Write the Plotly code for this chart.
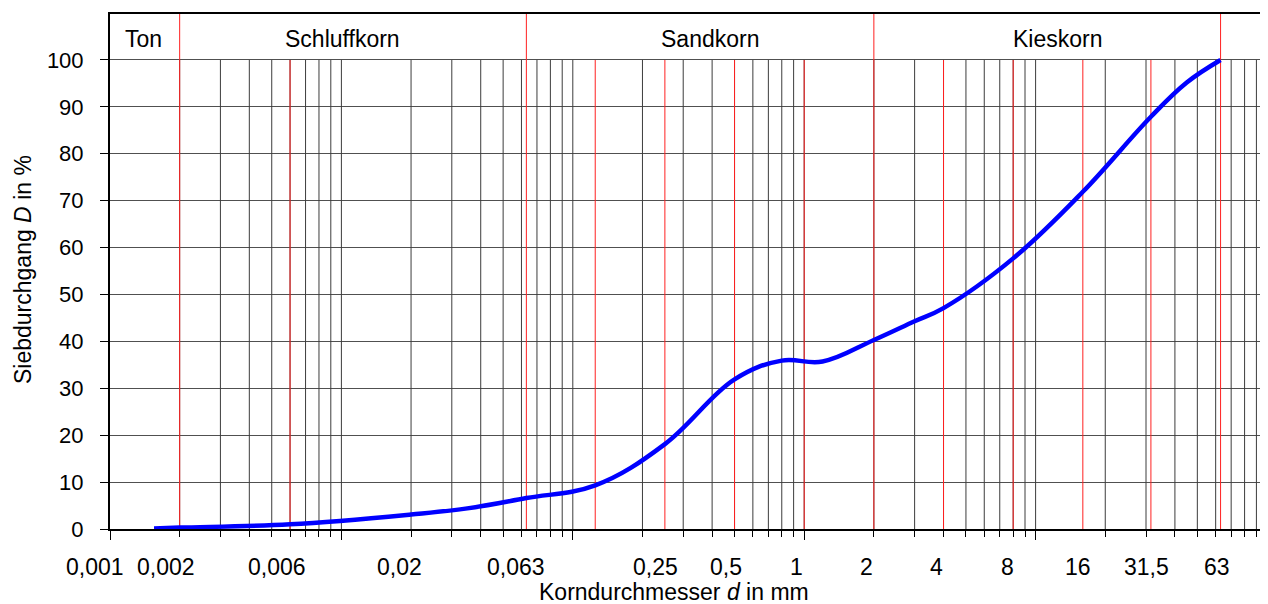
import numpy as np
import plotly.graph_objects as go

# ---- data ----
grain_size_mm = [0.00155, 0.002, 0.006, 0.02, 0.035, 0.063, 0.125, 0.25, 0.5, 0.8, 1.2,
                 2, 3, 4, 8, 16, 31.5, 45, 63]
passing_pct = [0.1, 0.3, 1.0, 3.1, 4.4, 6.6, 9.3, 18.1, 31.9, 35.9, 35.7,
               40.3, 44.3, 47.1, 57.7, 71.9, 87.9, 95.2, 100]

x_tick_values = [0.001, 0.002, 0.006, 0.02, 0.063, 0.25, 0.5, 1, 2, 4, 8, 16, 31.5, 63]
x_tick_labels = ["0,001", "0,002", "0,006", "0,02", "0,063", "0,25", "0,5", "1", "2", "4", "8", "16", "31,5", "63"]
y_tick_values = list(range(0, 101, 10))

fraction_names = ["Ton", "Schluffkorn", "Sandkorn", "Kieskorn"]
fraction_bounds = [0.002, 0.063, 2, 63]          # red lines across full height
sieve_lines = [0.006, 0.125, 0.25, 0.5, 1, 4, 8, 16, 31.5]  # red lines in chart body

Y_TOP = 109.8
FONT = "Arial, Liberation Sans, sans-serif"

# log grid values n*10^k
grid_vals = [n * 10.0 ** k for k in range(-3, 2) for n in range(1, 10)][1:] + [100]


def vlines(vals, y0, y1):
    xs, ys = [], []
    for v in vals:
        xs += [v, v, None]
        ys += [y0, y1, None]
    return xs, ys


fig = go.Figure()

gx, gy = vlines(grid_vals, 0, 100)
fig.add_trace(go.Scatter(x=gx, y=gy, mode="lines", line=dict(color="#3c3c3c", width=1),
                         hoverinfo="skip", showlegend=False))
rx, ry = vlines(sieve_lines, 0, 100)
fig.add_trace(go.Scatter(x=rx, y=ry, mode="lines", line=dict(color="#ff2020", width=1),
                         hoverinfo="skip", showlegend=False))
bx, by = vlines(fraction_bounds, 0, Y_TOP)
fig.add_trace(go.Scatter(x=bx, y=by, mode="lines", line=dict(color="#ff2020", width=1),
                         hoverinfo="skip", showlegend=False))

fig.add_trace(go.Scatter(x=grain_size_mm, y=passing_pct, mode="lines",
                         line=dict(color="#0000ff", width=4.5, shape="spline", smoothing=1.1),
                         showlegend=False))

annotations = []
# band labels (Ton / Schluffkorn / Sandkorn / Kieskorn)
band_label_pos = [-2.855, -1.996, -0.407, 1.095]  # log10 positions
for name, lx in zip(fraction_names, band_label_pos):
    annotations.append(dict(x=lx, y=104.5, xref="x", yref="y", text=name, showarrow=False,
                            font=dict(family=FONT, size=23, color="black"),
                            xanchor="center", yanchor="middle"))
# x tick labels
for v, t in zip(x_tick_values, x_tick_labels):
    lv = np.log10(v)
    annotations.append(dict(x=lv, y=0, xref="x", yref="paper", text=t, showarrow=False,
                            font=dict(family=FONT, size=23, color="black"),
                            xanchor="center", yanchor="middle",
                            xshift=-14.6 + 2.23 * (lv + 3), yshift=-37.5))
# axis titles
annotations.append(dict(x=(674 - 110) / 1157, y=0, xref="paper", yref="paper",
                        text="Korndurchmesser <i>d</i> in mm", showarrow=False,
                        font=dict(family=FONT, size=23, color="black"),
                        xanchor="center", yanchor="middle", yshift=-63))
annotations.append(dict(x=0, y=(529 - 270) / 515, xref="paper", yref="paper",
                        text="Siebdurchgang <i>D</i> in %", showarrow=False, textangle=-90,
                        font=dict(family=FONT, size=23, color="black"),
                        xanchor="center", yanchor="middle", xshift=-87))

# the page body has an 8 px default margin, so the figure is 8 px smaller / offset
fig.update_layout(
    width=1260, height=596,
    margin=dict(l=102, r=1, t=6, b=75, autoexpand=False),
    paper_bgcolor="white", plot_bgcolor="white",
    font=dict(family=FONT, size=23, color="black"),
    annotations=annotations,
    xaxis=dict(type="log", range=[-3, 2], showgrid=False, zeroline=False, automargin=False,
               showline=True, linecolor="black", linewidth=2, mirror=True,
               tickmode="array", tickvals=[0.001, 0.01, 0.1, 1, 10, 100],
               ticks="outside", ticklen=9, tickcolor="black", tickwidth=1,
               showticklabels=False,
               minor=dict(tickmode="array", tickvals=grid_vals, ticks="outside",
                          ticklen=6, tickcolor="black", tickwidth=1, showgrid=False)),
    yaxis=dict(range=[0, Y_TOP], tickmode="array", tickvals=y_tick_values, automargin=False,
               showgrid=True, gridcolor="#505050", gridwidth=1, zeroline=False,
               showline=True, linecolor="black", linewidth=2, mirror=True,
               ticks="outside", ticklen=8, tickcolor="black", tickwidth=1,
               ticklabelstandoff=12,
               tickfont=dict(family=FONT, size=22, color="black")),
)

fig.write_html("out.html")
